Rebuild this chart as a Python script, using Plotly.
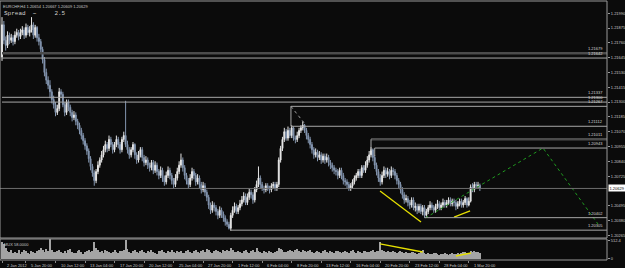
import plotly.graph_objects as go

# ---------------- data (EURCHF H4) ----------------
open_ = [
1.2165,1.2190,1.2178,1.2174,1.2182,1.2178,1.2180,1.2177,1.2182,1.2184,
1.2181,1.2184,1.2186,1.2182,1.2188,1.2184,1.2186,1.2190,1.2182,1.2188,
1.2180,1.2177,1.2171,1.2163,1.2153,1.2147,1.2143,1.2138,1.2132,1.2128,
1.2122,1.2125,1.2138,1.2136,1.2128,1.2122,1.2130,1.2126,1.2122,1.2118,
1.2120,1.2115,1.2112,1.2108,1.2104,1.2100,1.2096,1.2092,1.2086,1.2080,
1.2075,1.2069,1.2076,1.2081,1.2085,1.2089,1.2093,1.2097,1.2094,1.2101,
1.2097,1.2093,1.2097,1.2101,1.2097,1.2093,1.2101,1.2104,1.2097,1.2093,
1.2089,1.2093,1.2097,1.2089,1.2085,1.2089,1.2093,1.2087,1.2083,1.2085,
1.2081,1.2079,1.2083,1.2077,1.2081,1.2076,1.2073,1.2077,1.2071,1.2068,
1.2073,1.2077,1.2073,1.2069,1.2066,1.2071,1.2076,1.2081,1.2085,1.2079,
1.2073,1.2069,1.2066,1.2071,1.2076,1.2073,1.2068,1.2071,1.2066,1.2062,
1.2065,1.2060,1.2056,1.2050,1.2046,1.2050,1.2048,1.2045,1.2042,1.2046,
1.2043,1.2040,1.2037,1.2035,1.2032,1.2042,1.2046,1.2049,1.2045,1.2048,
1.2051,1.2054,1.2057,1.2052,1.2056,1.2060,1.2058,1.2054,1.2062,1.2066,
1.2071,1.2066,1.2063,1.2062,1.2065,1.2063,1.2062,1.2065,1.2066,1.2063,
1.2066,1.2085,1.2094,1.2101,1.2107,1.2102,1.2108,1.2104,1.2110,1.2102,
1.2101,1.2104,1.2108,1.2110,1.2112,1.2108,1.2104,1.2101,1.2097,1.2093,
1.2089,1.2091,1.2087,1.2089,1.2085,1.2088,1.2085,1.2087,1.2083,1.2081,
1.2079,1.2077,1.2076,1.2073,1.2077,1.2073,1.2069,1.2068,1.2066,1.2063,
1.2065,1.2068,1.2071,1.2073,1.2076,1.2073,1.2079,1.2077,1.2081,1.2085,
1.2089,1.2093,1.2087,1.2081,1.2076,1.2071,1.2068,1.2073,1.2077,1.2074,
1.2076,1.2073,1.2077,1.2076,1.2073,1.2069,1.2066,1.2062,1.2058,1.2054,
1.2055,1.2052,1.2050,1.2054,1.2048,1.2049,1.2046,1.2049,1.2045,1.2048,
1.2042,1.2045,1.2048,1.2050,1.2048,1.2046,1.2049,1.2051,1.2048,1.2050,
1.2052,1.2050,1.2052,1.2054,1.2051,1.2053,1.2052,1.2049,1.2051,1.2053,
1.2050,1.2052,1.2055,1.2050,1.2053,1.2064,1.2062,1.2066,1.2065,1.20654]

high = [
1.2196,1.2193,1.2181,1.2185,1.2184,1.2183,1.2182,1.2185,1.2187,1.2186,
1.2187,1.2189,1.2188,1.2191,1.2190,1.2189,1.2196,1.2192,1.2190,1.2189,
1.2183,1.2179,1.2173,1.2165,1.2156,1.2150,1.2147,1.2140,1.2135,1.2130,
1.2128,1.2141,1.2140,1.2138,1.2130,1.2132,1.2132,1.2128,1.2124,1.2123,
1.2122,1.2117,1.2114,1.2110,1.2106,1.2102,1.2098,1.2094,1.2088,1.2082,
1.2077,1.2078,1.2084,1.2087,1.2092,1.2096,1.2100,1.2099,1.2104,1.2103,
1.2099,1.2099,1.2104,1.2103,1.2099,1.2103,1.2107,1.2131,1.2100,1.2095,
1.2095,1.2099,1.2098,1.2091,1.2092,1.2095,1.2095,1.2089,1.2088,1.2087,
1.2083,1.2085,1.2085,1.2084,1.2083,1.2078,1.2080,1.2079,1.2073,1.2076,
1.2080,1.2079,1.2075,1.2071,1.2074,1.2079,1.2084,1.2090,1.2087,1.2081,
1.2075,1.2071,1.2074,1.2079,1.2078,1.2075,1.2074,1.2073,1.2068,1.2068,
1.2067,1.2062,1.2058,1.2052,1.2053,1.2052,1.2050,1.2047,1.2049,1.2048,
1.2045,1.2042,1.2039,1.2037,1.2044,1.2049,1.2052,1.2051,1.2050,1.2054,
1.2057,1.2060,1.2059,1.2059,1.2063,1.2062,1.2060,1.2064,1.2069,1.2080,
1.2073,1.2068,1.2065,1.2067,1.2067,1.2065,1.2067,1.2068,1.2068,1.2068,
1.2087,1.2096,1.2103,1.2110,1.2109,1.2111,1.2110,1.2112,1.2111,1.2104,
1.2107,1.2110,1.2112,1.2115,1.2113,1.2110,1.2106,1.2103,1.2099,1.2095,
1.2094,1.2093,1.2092,1.2091,1.2090,1.2090,1.2090,1.2089,1.2085,1.2083,
1.2081,1.2079,1.2078,1.2079,1.2079,1.2075,1.2071,1.2070,1.2068,1.2067,
1.2070,1.2073,1.2075,1.2078,1.2078,1.2081,1.2081,1.2084,1.2088,1.2092,
1.2095,1.2094,1.2089,1.2083,1.2078,1.2074,1.2076,1.2080,1.2079,1.2079,
1.2078,1.2080,1.2079,1.2078,1.2075,1.2071,1.2068,1.2064,1.2060,1.2058,
1.2057,1.2054,1.2056,1.2056,1.2052,1.2051,1.2051,1.2051,1.2050,1.2050,
1.2047,1.2050,1.2053,1.2052,1.2050,1.2051,1.2054,1.2053,1.2052,1.2055,
1.2054,1.2054,1.2056,1.2056,1.2055,1.2055,1.2054,1.2053,1.2055,1.2055,
1.2054,1.2057,1.2056,1.2056,1.2066,1.2067,1.2068,1.2068,1.2068,1.20667]

low = [
1.2162,1.2175,1.2170,1.2172,1.2175,1.2176,1.2174,1.2175,1.2180,1.2178,
1.2179,1.2182,1.2179,1.2180,1.2182,1.2181,1.2184,1.2179,1.2180,1.2177,
1.2174,1.2168,1.2160,1.2150,1.2144,1.2140,1.2133,1.2129,1.2125,1.2119,
1.2120,1.2123,1.2133,1.2126,1.2119,1.2120,1.2123,1.2119,1.2115,1.2116,
1.2112,1.2109,1.2105,1.2101,1.2097,1.2093,1.2089,1.2083,1.2077,1.2072,
1.2065,1.2067,1.2074,1.2079,1.2083,1.2087,1.2091,1.2091,1.2092,1.2095,
1.2090,1.2091,1.2095,1.2094,1.2090,1.2091,1.2099,1.2095,1.2090,1.2086,
1.2087,1.2091,1.2086,1.2082,1.2083,1.2087,1.2084,1.2080,1.2081,1.2078,
1.2076,1.2077,1.2074,1.2075,1.2073,1.2070,1.2071,1.2068,1.2065,1.2066,
1.2071,1.2070,1.2066,1.2063,1.2064,1.2069,1.2074,1.2079,1.2076,1.2070,
1.2066,1.2063,1.2064,1.2069,1.2070,1.2065,1.2066,1.2063,1.2059,1.2060,
1.2057,1.2053,1.2047,1.2043,1.2044,1.2045,1.2042,1.2039,1.2040,1.2040,
1.2037,1.2034,1.2033,1.2031,1.2030,1.2040,1.2044,1.2043,1.2043,1.2046,
1.2049,1.2052,1.2050,1.2050,1.2054,1.2055,1.2051,1.2052,1.2060,1.2064,
1.2063,1.2061,1.2059,1.2060,1.2061,1.2059,1.2060,1.2063,1.2061,1.2061,
1.2064,1.2083,1.2092,1.2099,1.2100,1.2100,1.2102,1.2102,1.2100,1.2098,
1.2099,1.2102,1.2106,1.2108,1.2106,1.2101,1.2098,1.2094,1.2090,1.2086,
1.2087,1.2084,1.2085,1.2082,1.2083,1.2082,1.2083,1.2080,1.2078,1.2076,
1.2074,1.2073,1.2070,1.2071,1.2070,1.2066,1.2065,1.2063,1.2061,1.2061,
1.2063,1.2066,1.2069,1.2071,1.2071,1.2071,1.2075,1.2075,1.2079,1.2083,
1.2087,1.2084,1.2078,1.2073,1.2068,1.2065,1.2066,1.2071,1.2071,1.2072,
1.2070,1.2071,1.2073,1.2070,1.2066,1.2063,1.2059,1.2055,1.2051,1.2052,
1.2049,1.2047,1.2048,1.2046,1.2045,1.2043,1.2044,1.2043,1.2042,1.2040,
1.2041,1.2043,1.2046,1.2046,1.2044,1.2044,1.2047,1.2046,1.2046,1.2048,
1.2048,1.2048,1.2050,1.2049,1.2049,1.2049,1.2046,1.2047,1.2049,1.2048,
1.2048,1.2050,1.2048,1.2049,1.2052,1.2060,1.2060,1.2063,1.2063,1.20609]

close = [
1.2190,1.2178,1.2174,1.2182,1.2178,1.2180,1.2177,1.2182,1.2184,1.2181,
1.2184,1.2186,1.2182,1.2188,1.2184,1.2186,1.2190,1.2182,1.2188,1.2180,
1.2177,1.2171,1.2163,1.2153,1.2147,1.2143,1.2138,1.2132,1.2128,1.2122,
1.2125,1.2138,1.2136,1.2128,1.2122,1.2130,1.2126,1.2122,1.2118,1.2120,
1.2115,1.2112,1.2108,1.2104,1.2100,1.2096,1.2092,1.2086,1.2080,1.2075,
1.2069,1.2076,1.2081,1.2085,1.2089,1.2093,1.2097,1.2094,1.2101,1.2097,
1.2093,1.2097,1.2101,1.2097,1.2093,1.2101,1.2104,1.2097,1.2093,1.2089,
1.2093,1.2097,1.2089,1.2085,1.2089,1.2093,1.2087,1.2083,1.2085,1.2081,
1.2079,1.2083,1.2077,1.2081,1.2076,1.2073,1.2077,1.2071,1.2068,1.2073,
1.2077,1.2073,1.2069,1.2066,1.2071,1.2076,1.2081,1.2085,1.2079,1.2073,
1.2069,1.2066,1.2071,1.2076,1.2073,1.2068,1.2071,1.2066,1.2062,1.2065,
1.2060,1.2056,1.2050,1.2046,1.2050,1.2048,1.2045,1.2042,1.2046,1.2043,
1.2040,1.2037,1.2035,1.2032,1.2042,1.2046,1.2049,1.2045,1.2048,1.2051,
1.2054,1.2057,1.2052,1.2056,1.2060,1.2058,1.2054,1.2062,1.2066,1.2071,
1.2066,1.2063,1.2062,1.2065,1.2063,1.2062,1.2065,1.2066,1.2063,1.2066,
1.2085,1.2094,1.2101,1.2107,1.2102,1.2108,1.2104,1.2110,1.2102,1.2101,
1.2104,1.2108,1.2110,1.2112,1.2108,1.2104,1.2101,1.2097,1.2093,1.2089,
1.2091,1.2087,1.2089,1.2085,1.2088,1.2085,1.2087,1.2083,1.2081,1.2079,
1.2077,1.2076,1.2073,1.2077,1.2073,1.2069,1.2068,1.2066,1.2063,1.2065,
1.2068,1.2071,1.2073,1.2076,1.2073,1.2079,1.2077,1.2081,1.2085,1.2089,
1.2093,1.2087,1.2081,1.2076,1.2071,1.2068,1.2073,1.2077,1.2074,1.2076,
1.2073,1.2077,1.2076,1.2073,1.2069,1.2066,1.2062,1.2058,1.2054,1.2055,
1.2052,1.2050,1.2054,1.2048,1.2049,1.2046,1.2049,1.2045,1.2048,1.2042,
1.2045,1.2048,1.2050,1.2048,1.2046,1.2049,1.2051,1.2048,1.2050,1.2052,
1.2050,1.2052,1.2054,1.2051,1.2053,1.2052,1.2049,1.2051,1.2053,1.2050,
1.2052,1.2055,1.2050,1.2053,1.2064,1.2062,1.2066,1.2065,1.20654,1.20629]

volume = [
480,420,300,220,180,260,150,200,170,240,130,190,260,210,160,120,230,180,150,210,
260,300,240,200,280,220,560,250,200,180,230,260,190,150,220,170,240,280,200,160,
150,210,250,190,140,200,230,260,180,220,480,300,240,190,210,170,250,220,180,150,
200,240,190,160,230,210,260,530,280,200,170,230,250,190,150,210,240,180,160,220,
190,250,200,170,140,210,230,260,190,160,220,200,240,180,150,210,190,230,170,150,
230,260,200,170,210,240,190,150,220,250,200,270,240,190,160,210,250,230,180,150,
240,210,260,220,300,250,200,180,230,190,160,220,250,200,170,210,240,190,300,230,
200,170,220,190,160,210,180,150,200,230,300,280,240,200,180,220,260,210,180,240,
270,220,190,240,210,180,230,250,200,160,190,220,180,150,210,240,190,170,220,200,
160,210,230,190,150,200,220,180,160,210,240,190,170,220,200,160,210,230,190,180,
210,240,200,230,220,470,250,210,190,230,200,180,210,190,170,200,220,180,160,190,
170,150,180,200,160,140,170,190,250,150,130,160,140,120,150,170,130,110,140,120,
150,130,110,140,160,120,140,170,130,150,180,200,160,150,210,190,220,200,180,170]

tick_bars = [0, 13, 29, 45, 61, 77, 93, 109, 125, 141, 157, 173, 189, 205, 221, 237, 253]
tick_labels = ["2 Jan 2012", "5 Jan 20:00", "10 Jan 12:00", "13 Jan 04:00", "17 Jan 20:00",
               "20 Jan 12:00", "25 Jan 04:00", "27 Jan 20:00", "1 Feb 12:00", "6 Feb 04:00",
               "8 Feb 20:00", "13 Feb 12:00", "16 Feb 04:00", "20 Feb 20:00", "23 Feb 12:00",
               "28 Feb 04:00", "1 Mar 20:00"]

# 1.20610 sits under the highlighted bid label in the reference, so it is not shown
price_ticks = [1.21990, 1.21875, 1.21760, 1.21645, 1.21530, 1.21415, 1.21300, 1.21185,
               1.21070, 1.20955, 1.20840, 1.20725, 1.20495, 1.20380, 1.20265]
vol_ticks = [0, 512.4]
vol_tick_labels = ["0", "512.4"]

# horizontal price levels: price, first bar
level_prices = [1.21679, 1.21642, 1.21337, 1.21300, 1.21267, 1.21112, 1.21011, 1.20943, 1.20402, 1.20305]
level_start = [0, 0, 0, 0, 156.6, 156.6, 200, 202, 229, 124]
level_heavy = [True, False, False, False, False, False, True, False, False, False]

bid = 1.20629
title_text = "EURCHF,H4 1.20654 1.20667 1.20609 1.20629"
spread_text = "Spread\u00a0\u00a0~\u00a0\u00a0\u00a0\u00a0\u00a02.5"
vol_label = "MUX 58.0000"

# drawn objects
green_x = [229.5, 293.2, 323]
green_y = [1.20400, 1.20943, 1.20353]
yellow1_x = [204.9, 227.1]; yellow1_y = [1.20609, 1.20368]
yellow2_x = [245.0, 253.7]; yellow2_y = [1.20407, 1.20454]
vyellow1_x = [204.9, 228.0]; vyellow1_y = [425, 190]
vyellow2_x = [246.0, 254.2]; vyellow2_y = [73, 161]
diag_x = [156.6, 164.2]; diag_y = [1.21267, 1.21130]
rect_vert = [(156.6, 1.21267, 1.21112), (200, 1.21011, 1.20920), (202, 1.20943, 1.20880)]

# ---------------- figure ----------------
BG = "#0b0b0b"
TXT = "#c8c8c8"
FONT = "Liberation Sans"
XMAX = 327.9

fig = go.Figure()
bars = list(range(len(close)))
fig.add_trace(go.Candlestick(
    x=bars, open=open_, high=high, low=low, close=close,
    increasing=dict(line=dict(color="#e6e6e6", width=1), fillcolor="#ffffff"),
    decreasing=dict(line=dict(color="#8496b0", width=1), fillcolor="#8496b0"),
    whiskerwidth=0, hoverinfo="skip", showlegend=False, xaxis="x", yaxis="y"))
fig.add_trace(go.Bar(x=bars, y=volume, width=0.6, marker=dict(color="#a4a4a4", line=dict(width=0)),
                     showlegend=False, hoverinfo="skip", xaxis="x", yaxis="y2"))

fig.add_trace(go.Scatter(x=green_x, y=green_y, mode="lines", line=dict(color="#1f9a1f", width=1, dash="dot"),
                         showlegend=False, hoverinfo="skip", yaxis="y"))
fig.add_trace(go.Scatter(x=diag_x, y=diag_y, mode="lines", line=dict(color="#9a9a9a", width=1, dash="dot"),
                         showlegend=False, hoverinfo="skip", yaxis="y"))
for xs, ys, ax in [(yellow1_x, yellow1_y, "y"), (yellow2_x, yellow2_y, "y"),
                   (vyellow1_x, vyellow1_y, "y2"), (vyellow2_x, vyellow2_y, "y2")]:
    fig.add_trace(go.Scatter(x=xs, y=ys, mode="lines", line=dict(color="#e6e000", width=1.3),
                             showlegend=False, hoverinfo="skip", yaxis=ax))

shapes = []
annotations = []
for p, s, heavy in zip(level_prices, level_start, level_heavy):
    shapes.append(dict(type="line", xref="x", yref="y", x0=s, x1=XMAX, y0=p, y1=p,
                       line=dict(color="#4c4c4c" if heavy else "#a8a8a8", width=2.5 if heavy else 1), layer="above"))
    annotations.append(dict(xref="paper", x=1, xanchor="right", xshift=-2, yref="y", y=p, yanchor="bottom",
                            text=f"{p:.5f}", showarrow=False, font=dict(size=4, color="#d8d8d8", family=FONT)))
for xv, y0, y1 in rect_vert:
    shapes.append(dict(type="line", xref="x", yref="y", x0=xv, x1=xv, y0=y0, y1=y1,
                       line=dict(color="#a8a8a8", width=1)))
shapes.append(dict(type="line", xref="x", yref="y", x0=-2, x1=XMAX, y0=bid, y1=bid,
                   line=dict(color="#6e6e6e", width=1)))
# pane frames
for yd in ["y domain", "y2 domain"]:
    shapes.append(dict(type="rect", xref="x domain", yref=yd, x0=0, x1=1, y0=0, y1=1,
                       line=dict(color="#9a9a9a", width=1), fillcolor="rgba(0,0,0,0)", layer="above"))

for b, t in zip(tick_bars, tick_labels):
    annotations.append(dict(xref="x", x=b, xanchor="left", xshift=3, yref="paper", y=0, yanchor="top",
                            yshift=-0.5, text=t, showarrow=False, font=dict(size=4, color=TXT, family=FONT)))
annotations.append(dict(xref="paper", x=0, xanchor="left", xshift=1, yref="paper", y=1, yanchor="top", yshift=-1,
                        text=title_text, showarrow=False, font=dict(size=4, color=TXT, family=FONT)))
annotations.append(dict(xref="paper", x=0, xanchor="left", xshift=2, yref="paper", y=1, yanchor="top", yshift=-7,
                        text=spread_text, showarrow=False, font=dict(size=6, color="#d0d0d0", family="Liberation Mono")))
annotations.append(dict(xref="paper", x=0, xanchor="left", xshift=2, yref="y2 domain", y=1, yanchor="top", yshift=-1,
                        text=vol_label, showarrow=False, font=dict(size=4, color=TXT, family=FONT)))
annotations.append(dict(xref="paper", x=1, xanchor="left", xshift=1, yref="y", y=bid, yanchor="middle",
                        text=f"{bid:.5f}", showarrow=False, bgcolor="#ffffff", borderpad=0.5,
                        font=dict(size=4, color="#000000", family=FONT)))

fig.update_layout(
    width=625, height=268, margin=dict(l=0, r=18, t=1, b=8),
    paper_bgcolor=BG, plot_bgcolor=BG, showlegend=False, bargap=0,
    xaxis=dict(range=[-1.084, XMAX], anchor="y2", showgrid=False, zeroline=False, showticklabels=False,
               tickvals=tick_bars, ticks="outside", ticklen=2, tickcolor="#8a8a8a",
               rangeslider=dict(visible=False), showline=False),
    yaxis=dict(domain=[0.0849, 1], range=[1.20244, 1.220853], side="right", anchor="x",
               tickvals=price_ticks, ticktext=[f"{v:.5f}" for v in price_ticks],
               tickfont=dict(size=4, color=TXT, family=FONT), ticks="outside", ticklen=2,
               tickcolor="#9a9a9a", showgrid=False, zeroline=False, showline=False),
    yaxis2=dict(domain=[0, 0.0811], range=[-44, 571], side="right", anchor="x",
                tickvals=vol_ticks, ticktext=vol_tick_labels,
                tickfont=dict(size=4, color=TXT, family=FONT), ticks="outside", ticklen=2,
                tickcolor="#9a9a9a", showgrid=False, zeroline=False, showline=False),
    shapes=shapes, annotations=annotations,
)
fig.write_html("out.html")
